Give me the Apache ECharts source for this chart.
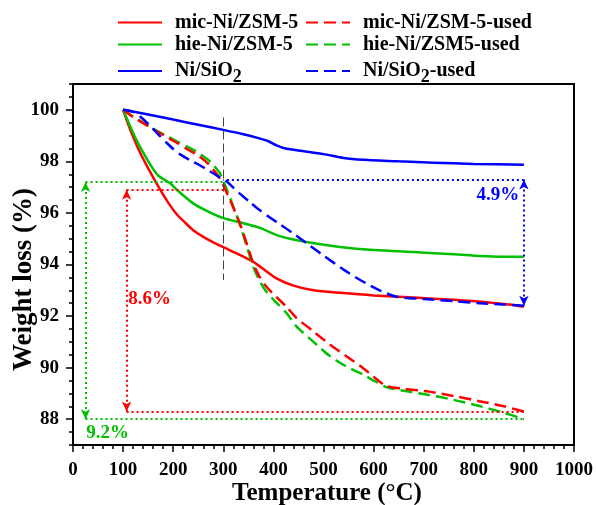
<!DOCTYPE html>
<html>
<head>
<meta charset="utf-8">
<script src="https://cdn.jsdelivr.net/npm/echarts@6/dist/echarts.min.js"></script>
<style>
  html, body { margin: 0; padding: 0; background: #fff; }
  #chart { width: 596px; height: 505px; }
</style>
</head>
<body>
<div id="chart"></div>
<script>
// TGA curves: temperature (°C) vs remaining weight (%)
const micTemp   = [100, 110, 120, 130, 140, 155, 174, 190, 207, 225, 240, 260, 280, 300, 330, 360, 385, 407, 440, 480, 533, 600, 680, 760, 820, 870, 900];
const micWeight = [100, 99.45, 98.95, 98.5, 98.1, 97.55, 96.9, 96.4, 95.95, 95.6, 95.33, 95.07, 94.86, 94.67, 94.4, 94.1, 93.75, 93.45, 93.18, 93.0, 92.9, 92.8, 92.72, 92.63, 92.55, 92.45, 92.36];

const hieTemp   = [100, 110, 120, 130, 140, 155, 170, 194, 207, 240, 270, 300, 340, 373, 413, 466, 533, 600, 680, 760, 812, 860, 900];
const hieWeight = [100, 99.55, 99.1, 98.7, 98.35, 97.85, 97.45, 97.15, 96.9, 96.37, 96.05, 95.8, 95.6, 95.42, 95.1, 94.87, 94.68, 94.56, 94.48, 94.4, 94.33, 94.3, 94.3];

const sioTemp   = [100, 150, 200, 250, 300, 340, 370, 390, 405, 420, 450, 500, 540, 580, 650, 720, 800, 900];
const sioWeight = [100, 99.82, 99.62, 99.42, 99.22, 99.05, 98.9, 98.78, 98.63, 98.52, 98.42, 98.28, 98.13, 98.06, 98.0, 97.95, 97.9, 97.87];

const micUsedTemp   = [100, 120, 140, 174, 207, 230, 253, 270, 280, 293, 303, 318, 333, 347, 360, 373, 387, 407, 427, 445, 480, 512, 545, 578, 600, 625, 660, 711, 760, 811, 860, 900];
const micUsedWeight = [100, 99.72, 99.48, 99.09, 98.72, 98.45, 98.18, 97.9, 97.68, 97.34, 96.95, 96.3, 95.59, 94.8, 94.03, 93.5, 93.12, 92.72, 92.34, 91.95, 91.4, 90.91, 90.45, 90.0, 89.65, 89.29, 89.18, 89.07, 88.9, 88.7, 88.5, 88.3];

const hieUsedTemp   = [100, 120, 140, 174, 207, 230, 253, 270, 280, 293, 303, 318, 333, 347, 360, 373, 387, 407, 427, 445, 480, 512, 545, 578, 600, 625, 660, 711, 760, 811, 860, 900];
const hieUsedWeight = [100, 99.74, 99.5, 99.12, 98.78, 98.55, 98.3, 98.05, 97.86, 97.55, 97.1, 96.35, 95.55, 94.7, 93.9, 93.35, 92.92, 92.5, 92.1, 91.62, 91.0, 90.46, 90.05, 89.74, 89.5, 89.25, 89.1, 88.94, 88.75, 88.51, 88.25, 88.0];

const sioUsedTemp   = [100, 120, 134, 150, 170, 187, 200, 214, 233, 253, 273, 293, 307, 320, 333, 353, 373, 393, 413, 440, 467, 500, 540, 575, 613, 646, 700, 760, 812, 860, 900];
const sioUsedWeight = [100, 99.92, 99.74, 99.45, 99.05, 98.72, 98.48, 98.27, 98.05, 97.85, 97.62, 97.38, 97.22, 96.98, 96.75, 96.42, 96.1, 95.82, 95.56, 95.2, 94.81, 94.35, 93.8, 93.38, 92.99, 92.75, 92.66, 92.58, 92.5, 92.45, 92.4];

// weight-loss brackets: [green, red, blue]
const bracketTemp   = [25, 107, 900];
const bracketStart  = [300, 305, 300];   // where the upper guide line meets the curves
const bracketTop    = [97.2, 96.9, 97.3];
const bracketBottom = [88.0, 88.3, 92.4];
const bracketText   = ['9.2%', '8.6%', '4.9%'];

// reference temperature marker
const markerTemp = 300;
const markerRange = [99.7, 93.4];

// axis ticks
const yLabelValues = [88, 90, 92, 94, 96, 98, 100];
const yMinorValues = [87, 87.5, 88, 88.5, 89, 89.5, 90, 90.5, 91, 91.5, 92, 92.5, 93, 93.5, 94, 94.5, 95, 95.5, 96, 96.5, 97, 97.5, 98, 98.5, 99, 99.5, 100, 100.5, 101];

const RED = '#ff0000', GREEN = '#00c000', BLUE = '#0000ff';
const serif = '"Liberation Serif", "Times New Roman", serif';
const pairs = (t, w) => t.map((x, i) => [x, w[i]]);
const dotted = [2, 3];

function bracketLines(i, color, withBottom) {
  const lines = [
    [{ coord: [bracketTemp[i], bracketTop[i]] }, { coord: [bracketStart[i], bracketTop[i]] }],
    [{ coord: [bracketTemp[i], bracketTop[i]], symbol: 'arrow', symbolSize: [7, 10] },
     { coord: [bracketTemp[i], bracketBottom[i]], symbol: 'arrow', symbolSize: [7, 10] }]
  ];
  if (withBottom) {
    lines.push([{ coord: [bracketTemp[i], bracketBottom[i]] }, { coord: [900, bracketBottom[i]] }]);
  }
  return {
    silent: true,
    symbol: ['none', 'none'],
    label: { show: false },
    lineStyle: { color: color, width: 2, type: dotted, opacity: 1 },
    emphasis: { disabled: true },
    data: lines
  };
}

function curve(name, t, w, color, dashed, extra) {
  return Object.assign({
    name: name,
    type: 'line',
    data: pairs(t, w),
    symbol: 'none',
    smooth: 0.25,
    color: color,
    itemStyle: { color: color },
    lineStyle: { color: color, width: 2.5, type: dashed ? [12, 6] : 'solid' }
  }, extra || {});
}

const legendText = {
  fontFamily: serif, fontWeight: 'bold', fontSize: 20, color: '#000',
  lineHeight: 21, padding: [0, 0, 0, 8],
  rich: {
    sub: { fontFamily: serif, fontWeight: 'bold', fontSize: 18, color: '#000', lineHeight: 21, padding: [12, 0, 0, 0] }
  }
};
const legendFormat = name => name.replace('SiO2', 'SiO{sub|2}');
const legendBase = {
  orient: 'vertical', top: 12, padding: 0, itemWidth: 44, itemHeight: 14, itemGap: 1,
  selectedMode: false, textStyle: legendText, formatter: legendFormat,
  itemStyle: { opacity: 0 }
};

const chart = echarts.init(document.getElementById('chart'), null, { renderer: 'canvas' });

const option = {
  animation: false,
  backgroundColor: '#fff',
  legend: [
    Object.assign({ data: ['mic-Ni/ZSM-5', 'hie-Ni/ZSM-5', 'Ni/SiO2'], left: 117 }, legendBase),
    Object.assign({ data: ['mic-Ni/ZSM-5-used', 'hie-Ni/ZSM5-used', 'Ni/SiO2-used'], left: 305 }, legendBase)
  ],
  grid: {
    left: 73, right: 22, top: 84, bottom: 60,
    containLabel: false, outerBoundsMode: 'none',
    show: true, borderColor: '#000', borderWidth: 2, backgroundColor: 'transparent'
  },
  xAxis: {
    type: 'value', min: 0, max: 1000, interval: 100,
    name: 'Temperature (°C)', nameLocation: 'middle', nameGap: 36, nameMoveOverlap: false,
    nameTextStyle: { fontFamily: serif, fontWeight: 'bold', fontSize: 25, color: '#000', padding: [0, 0, 0, 7] },
    axisLine: { show: true, lineStyle: { color: '#000', width: 2 } },
    axisTick: { show: true, length: 7, lineStyle: { color: '#000', width: 1.5 } },
    minorTick: { show: true, splitNumber: 5, length: 4, lineStyle: { color: '#000', width: 1.5 } },
    axisLabel: { fontFamily: serif, fontWeight: 'bold', fontSize: 19, color: '#000', margin: 16, formatter: v => String(v) },
    splitLine: { show: false }
  },
  yAxis: [
    {
      type: 'value', min: 87, max: 101, interval: 1,
      name: 'Weight loss (%)', nameLocation: 'middle', nameGap: 35, nameRotate: 90, nameMoveOverlap: false,
      nameTextStyle: { fontFamily: serif, fontWeight: 'bold', fontSize: 27, color: '#000', padding: [0, 30, 0, 0] },
      axisLine: { show: true, lineStyle: { color: '#000', width: 2 } },
      axisTick: { show: true, length: 7, customValues: yLabelValues, lineStyle: { color: '#000', width: 1.5 } },
      axisLabel: { fontFamily: serif, fontWeight: 'bold', fontSize: 19, color: '#000', margin: 14, customValues: yLabelValues },
      splitLine: { show: false }
    },
    {
      type: 'value', min: 87, max: 101, interval: 1, position: 'left',
      axisLine: { show: false },
      axisTick: { show: true, length: 4, customValues: yMinorValues, lineStyle: { color: '#000', width: 1.5 } },
      axisLabel: { show: false },
      splitLine: { show: false }
    }
  ],
  series: [
    curve('mic-Ni/ZSM-5', micTemp, micWeight, RED, false, {
      z: 3,
      markLine: {
        silent: true,
        symbol: ['none', 'none'],
        label: { show: false },
        lineStyle: { color: '#444', width: 1, type: [9, 4], opacity: 1 },
        emphasis: { disabled: true },
        data: [[{ coord: [markerTemp, markerRange[0]] }, { coord: [markerTemp, markerRange[1]] }]]
      }
    }),
    curve('hie-Ni/ZSM-5', hieTemp, hieWeight, GREEN, false, { z: 3 }),
    curve('Ni/SiO2', sioTemp, sioWeight, BLUE, false, { z: 3 }),
    curve('mic-Ni/ZSM-5-used', micUsedTemp, micUsedWeight, RED, true, { z: 4, markLine: bracketLines(1, RED, true) }),
    curve('hie-Ni/ZSM5-used', hieUsedTemp, hieUsedWeight, GREEN, true, { z: 3, markLine: bracketLines(0, GREEN, true) }),
    curve('Ni/SiO2-used', sioUsedTemp, sioUsedWeight, BLUE, true, { z: 4, markLine: bracketLines(2, BLUE, false) })
  ]
};

chart.setOption(option);

// percentage labels placed next to their brackets
const px = (t, w) => chart.convertToPixel({ gridIndex: 0 }, [t, w]);
const labelSpots = [
  { at: px(bracketTemp[0], bracketBottom[0]), dx: 22, dy: 14, color: GREEN },
  { at: px(bracketTemp[1], (bracketTop[1] + bracketBottom[1]) / 2), dx: 23, dy: -2, color: RED },
  { at: px(bracketTemp[2], bracketTop[2]), dx: -26, dy: 16, color: BLUE }
];
chart.setOption({
  graphic: labelSpots.map((s, i) => ({
    type: 'text',
    x: s.at[0] + s.dx,
    y: s.at[1] + s.dy,
    silent: true,
    z: 10,
    style: {
      text: bracketText[i],
      fill: s.color,
      font: 'bold 19px ' + serif,
      align: 'center',
      verticalAlign: 'middle'
    }
  }))
});
</script>
</body>
</html>
